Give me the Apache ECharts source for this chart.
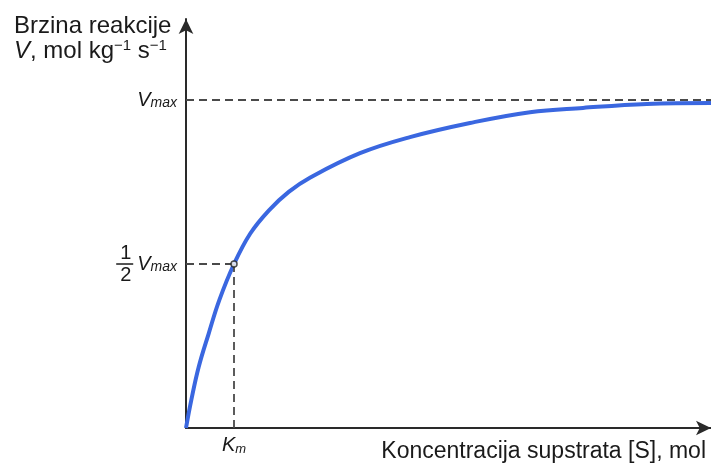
<!DOCTYPE html>
<html>
<head>
<meta charset="utf-8">
<script src="https://cdn.jsdelivr.net/npm/echarts@6/dist/echarts.min.js"></script>
<style>
  html, body { margin: 0; padding: 0; background: #fff; }
  #chart { width: 711px; height: 466px; }
</style>
</head>
<body>
<div id="chart"></div>
<script>
// Michaelis–Menten saturation curve (relative units: Vmax = 1)
const substrate = [0, 1.02, 2.45, 4.38, 6.43, 9.27, 12.41, 15.97, 19.83, 24.0, 33.59, 43.24, 54.83, 66.41, 76.64, 88.99, 101.35];
const velocity  = [0, 0.085, 0.186, 0.288, 0.390, 0.5, 0.593, 0.663, 0.720, 0.764, 0.838, 0.887, 0.930, 0.963, 0.976, 0.988, 0.991];
const vMax = 1;
const halfVMax = 0.5;
const kM = 9.27;
const xMax = 101.35;
const yMax = 1.247;

const curve = substrate.map((s, i) => [s, velocity[i]]);
const FONT = '"Liberation Sans", Arial, sans-serif';
const INK = '#1a1a1a';

const chart = echarts.init(document.getElementById('chart'), null, { renderer: 'canvas' });

chart.setOption({
  animation: false,
  backgroundColor: '#ffffff',
  title: [
    {
      left: 9, top: 9,
      text: '{t|Brzina reakcije}\n{v|V}{t|, mol kg}{sup|−1}{t| s}{sup|−1}',
      textStyle: {
        rich: {
          t: { fontFamily: FONT, fontSize: 24, fontWeight: 'normal', color: INK, lineHeight: 25 },
          v: { fontFamily: FONT, fontSize: 24, fontWeight: 'normal', fontStyle: 'italic', color: INK, lineHeight: 25 },
          sup: { fontFamily: FONT, fontSize: 15, fontWeight: 'normal', color: INK, padding: [0, 0, 12, 0], lineHeight: 25 }
        }
      }
    },
    {
      right: 0, bottom: -2,
      text: 'Koncentracija supstrata [S], mol',
      textStyle: { fontFamily: FONT, fontSize: 23, fontWeight: 'normal', color: INK }
    }
  ],
  grid: { left: 186, right: 0, top: 19, bottom: 38, containLabel: false },
  xAxis: {
    type: 'value', min: 0, max: xMax,
    splitLine: { show: false },
    axisTick: { show: false },
    axisLine: {
      show: true, onZero: false,
      symbol: ['none', 'arrow'], symbolSize: [11, 15],
      lineStyle: { color: '#2a2a2a', width: 2 }
    },
    axisLabel: {
      show: true,
      customValues: [kM],
      margin: 7,
      formatter: () => '{k|K}{m|m}',
      rich: {
        k: { fontFamily: FONT, fontSize: 20, fontStyle: 'italic', color: INK },
        m: { fontFamily: FONT, fontSize: 13, fontStyle: 'italic', color: INK, padding: [8, 0, 0, 0] }
      }
    }
  },
  yAxis: {
    type: 'value', min: 0, max: yMax,
    splitLine: { show: false },
    axisTick: { show: false },
    axisLine: {
      show: true, onZero: false,
      symbol: ['none', 'arrow'], symbolSize: [11, 15],
      lineStyle: { color: '#2a2a2a', width: 2 }
    },
    axisLabel: {
      show: true,
      customValues: [halfVMax, vMax],
      margin: 9,
      formatter: (val) => val === vMax
        ? '{v|V}{s|max}'
        : '{n|1}\n{bar| }{gap| }{v2|V}{s2|max}\n{n|2}',
      rich: {
        v: { fontFamily: FONT, fontSize: 20, fontStyle: 'italic', color: INK, align: 'left', lineHeight: 22 },
        s: { fontFamily: FONT, fontSize: 14, fontStyle: 'italic', color: INK, align: 'left', padding: [7, 0, 0, 0], lineHeight: 22 },
        v2: { fontFamily: FONT, fontSize: 20, fontStyle: 'italic', color: INK, align: 'left', lineHeight: 10 },
        s2: { fontFamily: FONT, fontSize: 14, fontStyle: 'italic', color: INK, align: 'left', padding: [7, 0, 0, 0], lineHeight: 10 },
        n: { fontFamily: FONT, fontSize: 20, color: INK, align: 'left', width: 17, padding: [0, 0, 0, 4], lineHeight: 12 },
        bar: { width: 17, height: 1.5, backgroundColor: INK, align: 'left', fontSize: 1, lineHeight: 10 },
        gap: { width: 4, fontSize: 1, align: 'left', lineHeight: 10 }
      }
    }
  },
  series: [
    {
      type: 'line',
      data: curve,
      smooth: 0.4,
      showSymbol: false,
      lineStyle: { color: '#3a67e0', width: 4 },
      z: 3,
      markLine: {
        silent: true,
        symbol: 'none',
        label: { show: false },
        lineStyle: { color: '#4a4a4a', type: [8, 5], width: 1.8 },
        data: [
          [{ coord: [0, vMax] }, { coord: [xMax, vMax] }],
          [{ coord: [0, halfVMax] }, { coord: [kM, halfVMax] }],
          [{ coord: [kM, halfVMax] }, { coord: [kM, 0] }]
        ]
      }
    },
    {
      type: 'scatter',
      data: [[kM, halfVMax]],
      symbol: 'circle',
      symbolSize: 6,
      itemStyle: { color: '#fff', borderColor: '#222', borderWidth: 1.5 },
      z: 5
    }
  ]
});
</script>
</body>
</html>
